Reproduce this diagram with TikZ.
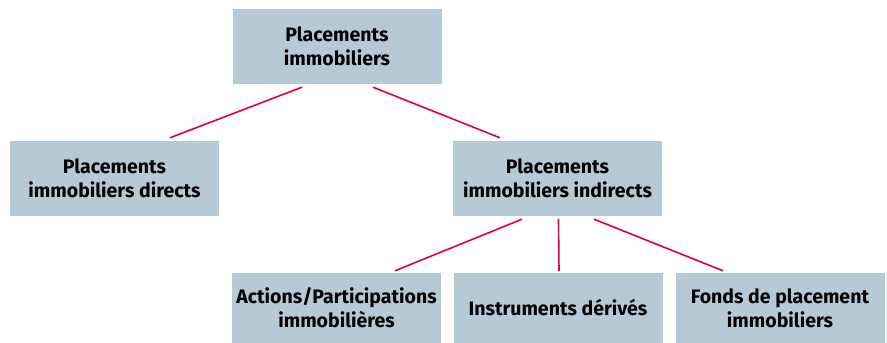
\documentclass[tikz,border=0pt]{standalone}
\usepackage{fontspec}
\setmainfont{Fira Sans}
\usepackage{tikz}
\usetikzlibrary{positioning,calc}
\definecolor{boxgray}{RGB}{182,202,213}
\definecolor{linkred}{RGB}{226,0,62}

\begin{document}
\begin{tikzpicture}[x=1pt,y=-1pt,
    box/.style={fill=boxgray,minimum width=209pt,minimum height=75pt,align=center,
      font=\fontsize{19.5}{24}\selectfont\bfseries,inner sep=0pt},
    low/.style={box,minimum height=70pt},
    link/.style={linkred,line width=1.6pt}]
  \useasboundingbox (0,0) rectangle (887,343);
  \node[box] (top) at (337,46.5) {Placements\\immobiliers};
  \node[box] (direct) at (114.5,178.5) {Placements\\immobiliers directs};
  \node[box] (indirect) at (557.5,178.5) {Placements\\immobiliers indirects};
  \node[low] (actions) at (336.5,308) {Actions/Participations\\immobilières};
  \node[low] (derives) at (558,308) {Instruments dérivés};
  \node[low] (fonds) at (780,308) {Fonds de placement\\immobiliers};
  % liens
  \draw[link] ([shift={(-35,3)}]top.south) -- ([shift={(55.5,-3)}]direct.north);
  \draw[link] ([shift={(36,3)}]top.south) -- ([shift={(-57.5,-3)}]indirect.north);
  \draw[link] ([shift={(-35.5,3)}]indirect.south) -- ([shift={(58.5,-2)}]actions.north);
  \draw[link] ([shift={(1,3)}]indirect.south) -- ([shift={(1,-2)}]derives.north);
  \draw[link] ([shift={(36.5,3)}]indirect.south) -- ([shift={(-57,-2)}]fonds.north);
\end{tikzpicture}
\end{document}
